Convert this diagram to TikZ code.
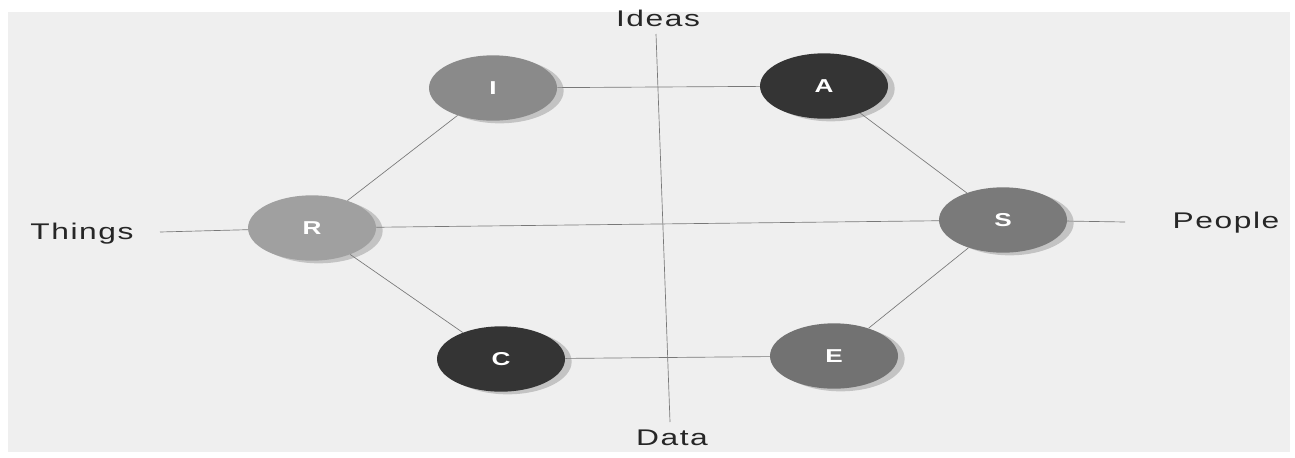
\documentclass[tikz,border=0pt]{standalone}
\usepackage{graphicx}
\usepackage{fontspec}
\setmainfont{Liberation Sans}
\newfontfamily\widesans[LetterSpace=5]{Liberation Sans}
\usetikzlibrary{shapes.geometric,shadows}

\newcommand{\widen}[1]{\scalebox{1.4}[1]{#1}}

\definecolor{paper}{RGB}{239,239,239}
\definecolor{wire}{RGB}{120,120,120}
\definecolor{darkdot}{RGB}{52,52,52}
\definecolor{idot}{RGB}{138,138,138}
\definecolor{rdot}{RGB}{160,160,160}
\definecolor{sdot}{RGB}{122,122,122}
\definecolor{edot}{RGB}{114,114,114}

\tikzset{
  typebox/.style={ellipse, minimum width=96pt, minimum height=49pt, inner sep=0pt,
    text=white, font=\widesans\bfseries\fontsize{14}{14}\selectfont,
    drop shadow={shadow xshift=5pt, shadow yshift=-2pt, opacity=0.18, fill=black}},
  axislabel/.style={font=\widesans\fontsize{17}{17}\selectfont, text=black!85},
  wireline/.style={draw=wire, line width=0.5pt}
}

\begin{document}
\begin{tikzpicture}[x=0.75pt,y=0.75pt,yscale=-1,xscale=1]
  \useasboundingbox (0,0) rectangle (1295,457);
  \fill[paper] (8,12) rectangle (1290,452);

  %axis end points
  \coordinate (ideasend) at (656,34);
  \coordinate (dataend) at (670,422);
  \coordinate (thingsend) at (160,232);
  \coordinate (peopleend) at (1125,222);

  \node[axislabel] (ideas) at (658,18) {\widen{Ideas}};
  \node[axislabel] (data) at (672,438) {\widen{Data}};
  \node[axislabel] (things) at (82,234) {\widen{Things}};
  \node[axislabel] (people) at (1226,223) {\widen{People}};

  %Vertical axis
  \draw[wireline] (ideasend) -- (dataend);

  %hexagon nodes
  \node[typebox, fill=idot] (I) at (493,88) {\widen{I}};
  \node[typebox, fill=darkdot] (A) at (824,86) {\widen{A}};
  \node[typebox, fill=rdot] (R) at (312,228) {\widen{R}};
  \node[typebox, fill=sdot] (S) at (1003,220) {\widen{S}};
  \node[typebox, fill=darkdot] (C) at (501,359) {\widen{C}};
  \node[typebox, fill=edot] (E) at (834,356) {\widen{E}};

  %Horizontal axis
  \draw[wireline] (thingsend) -- (R);
  \draw[wireline] (R) -- (S);
  \draw[wireline] (S) -- (peopleend);

  %hexagon edges
  \draw[wireline] (I) -- (A);
  \draw[wireline] (A) -- (S);
  \draw[wireline] (S) -- (E);
  \draw[wireline] (E) -- (C);
  \draw[wireline] (C) -- (R);
  \draw[wireline] (R) -- (I);
\end{tikzpicture}
\end{document}
